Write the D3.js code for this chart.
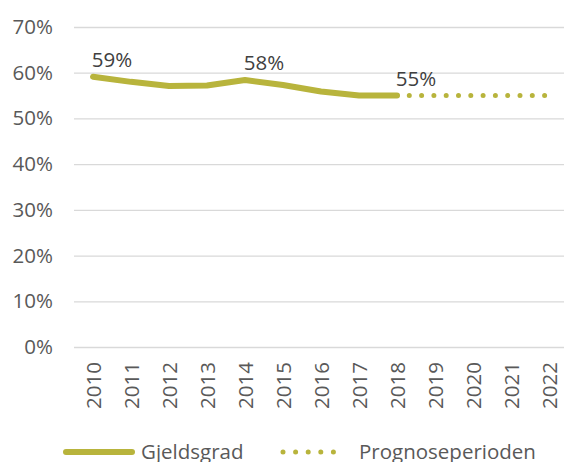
<!DOCTYPE html>
<html>
<head>
<meta charset="utf-8">
<script src="https://cdn.jsdelivr.net/npm/d3@7"></script>
<style>
  body { margin: 0; background: #fff; }
  svg { display: block; font-family: 'Open Sans', sans-serif; }
</style>
</head>
<body>
<svg id="chart" width="564" height="462"></svg>
<script>
const years = ['2010', '2011', '2012', '2013', '2014', '2015', '2016', '2017', '2018', '2019', '2020', '2021', '2022'];
const gjeldsgrad = [59.1, 58.0, 57.1, 57.2, 58.4, 57.3, 55.9, 55.0, 55.0];
const prognose = [null, null, null, null, null, null, null, null, 55.0, 55.0, 55.0, 55.0, 55.0];
const yTicks = [0, 10, 20, 30, 40, 50, 60, 70];
const labelled = [
  { year: '2010', value: 59 },
  { year: '2014', value: 58 },
  { year: '2018', value: 55 }
];

const margin = { top: 27, right: 0, bottom: 115, left: 74 },
  width = 564,
  height = 462;
const color = '#b8b43c';
const fs = '20.5px';

const svg = d3.select('#chart');

const x = d3
  .scaleBand()
  .domain(years)
  .range([margin.left, margin.left + 38 * years.length]);

const y = d3
  .scaleLinear()
  .domain([0, 70])
  .range([height - margin.bottom, margin.top]);

// grid + y labels
svg
  .append('g')
  .attr('transform', `translate(${margin.left},0)`)
  .call(
    d3.axisLeft(y)
      .tickValues(yTicks)
      .tickSize(-(width - margin.left))
      .tickPadding(21)
      .tickFormat(d => d + '%')
  )
  .call(g => g.select('.domain').remove())
  .call(g => g.selectAll('.tick line').attr('stroke', '#d9d9d9').attr('stroke-width', 1.3))
  .call(g =>
    g.selectAll('.tick text')
      .attr('fill', '#595959')
      .attr('font-size', fs)
      .attr('font-family', "'Open Sans', sans-serif")
  );

// x labels
svg
  .append('g')
  .attr('transform', `translate(0,${height - margin.bottom})`)
  .call(d3.axisBottom(x).tickSize(0).tickPadding(0))
  .call(g => g.select('.domain').remove())
  .call(g =>
    g.selectAll('.tick text')
      .attr('fill', '#595959')
      .attr('font-size', fs)
      .attr('font-family', "'Open Sans', sans-serif")
      .attr('transform', 'rotate(-90)')
      .attr('text-anchor', 'end')
      .attr('x', -15)
      .attr('y', 1)
      .attr('dy', '0.35em')
  );

const cx = d => x(d) + x.bandwidth() / 2;

const line = d3
  .line()
  .defined(d => d[1] != null)
  .x(d => cx(d[0]))
  .y(d => y(d[1]));

svg
  .append('path')
  .datum(prognose.map((v, i) => [years[i], v]))
  .attr('fill', 'none')
  .attr('stroke', color)
  .attr('stroke-width', 5)
  .attr('stroke-linecap', 'round')
  .attr('stroke-dasharray', '0,12.3')
  .attr('d', line);

svg
  .append('path')
  .datum(gjeldsgrad.map((v, i) => [years[i], v]))
  .attr('fill', 'none')
  .attr('stroke', color)
  .attr('stroke-width', 6)
  .attr('stroke-linecap', 'round')
  .attr('stroke-linejoin', 'round')
  .attr('d', line);

svg
  .selectAll('.dlabel')
  .data(labelled)
  .join('text')
  .attr('class', 'dlabel')
  .attr('x', d => cx(d.year) + 19)
  .attr('y', d => y(gjeldsgrad[years.indexOf(d.year)]) - 10)
  .attr('text-anchor', 'middle')
  .attr('fill', '#404040')
  .attr('font-size', fs)
  .text(d => d.value + '%');

// legend
const legend = svg.append('g').attr('transform', 'translate(0,452)');
legend.append('line')
  .attr('x1', 66).attr('x2', 132)
  .attr('stroke', color).attr('stroke-width', 6).attr('stroke-linecap', 'round');
legend.append('text')
  .attr('x', 141).attr('dy', '0.35em')
  .attr('fill', '#595959').attr('font-size', fs)
  .text('Gjeldsgrad');
legend.append('line')
  .attr('x1', 283).attr('x2', 346)
  .attr('stroke', color).attr('stroke-width', 5).attr('stroke-linecap', 'round')
  .attr('stroke-dasharray', '0,12.6');
legend.append('text')
  .attr('x', 359).attr('dy', '0.35em')
  .attr('fill', '#595959').attr('font-size', fs)
  .text('Prognoseperioden');
</script>
</body>
</html>
